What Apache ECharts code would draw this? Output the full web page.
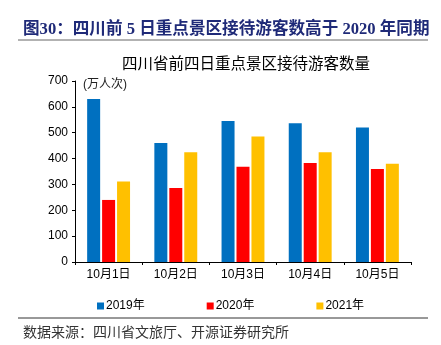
<!DOCTYPE html>
<html><head><meta charset="utf-8">
<script src="https://cdn.jsdelivr.net/npm/echarts@6/dist/echarts.min.js"></script>
<style>html,body{margin:0;padding:0;background:#fff}#c{width:441px;height:345px}</style>
</head><body><div id="c"></div>
<script>
const categories = ['10月1日','10月2日','10月3日','10月4日','10月5日'];
const seriesNames = ['2019年','2020年','2021年'];
const v2019 = [630, 460, 545, 537, 520];
const v2020 = [240, 286, 368, 383, 360];
const v2021 = [311, 424, 485, 424, 380];
const yTicks = [0,100,200,300,400,500,600,700];
const colors = ['#0070C0','#FF0000','#FFC000'];

const chart = echarts.init(document.getElementById('c'));
const cjk = '"Liberation Sans", "Noto Sans CJK SC", sans-serif';
chart.setOption({
  animation:false,
  title:[
    {text:'图30：四川前 5 日重点景区接待游客数高于 2020 年同期', left:18, top:16,
     textStyle:{fontSize:16.6, fontWeight:'bold', color:'#1F2A78', fontFamily:'"Liberation Serif", "Noto Sans CJK SC", serif'}},
    {text:'四川省前四日重点景区接待游客数量', left:117, top:52,
     textStyle:{fontSize:15.5, fontWeight:'normal', color:'#000', fontFamily:cjk}},
    {text:'数据来源：四川省文旅厅、开源证券研究所', left:18, top:321,
     textStyle:{fontSize:14, fontWeight:'normal', color:'#333', fontFamily:cjk}}
  ],
  graphic:[
    {type:'line', shape:{x1:18,y1:40,x2:428,y2:40}, style:{stroke:'#666', lineWidth:1}},
    {type:'line', shape:{x1:18,y1:318,x2:428,y2:318}, style:{stroke:'#333', lineWidth:1}},
    {type:'text', left:83, top:79, style:{text:'(万人次)', fontSize:12, fill:'#222', fontFamily:cjk}}
  ],
  legend:{data:seriesNames, left:92, top:295, itemWidth:7, itemHeight:7, itemGap:62,
    icon:'rect', textStyle:{fontSize:12, color:'#000', fontFamily:cjk, padding:[0,0,0,-3]}},
  grid:{left:75, right:30, top:81, bottom:83},
  xAxis:{type:'category', data:categories,
    axisLine:{lineStyle:{color:'#000'}},
    axisTick:{show:true, length:3, lineStyle:{color:'#000'}},
    axisLabel:{fontSize:12, color:'#000', margin:7, fontFamily:cjk}},
  yAxis:{type:'value', min:0, max:700, interval:100,
    axisLine:{show:true, lineStyle:{color:'#000'}},
    axisTick:{show:true, length:3, lineStyle:{color:'#000'}},
    splitLine:{show:false},
    axisLabel:{fontSize:12, color:'#000', margin:7, fontFamily:cjk,
      formatter:(v)=> yTicks.includes(v) ? String(v) : ''}},
  series:[
    {name:seriesNames[0], type:'bar', data:v2019, barWidth:13, barGap:'15%', itemStyle:{color:colors[0]}},
    {name:seriesNames[1], type:'bar', data:v2020, barWidth:13, barGap:'15%', itemStyle:{color:colors[1]}},
    {name:seriesNames[2], type:'bar', data:v2021, barWidth:13, barGap:'15%', itemStyle:{color:colors[2]}}
  ]
});
</script></body></html>
